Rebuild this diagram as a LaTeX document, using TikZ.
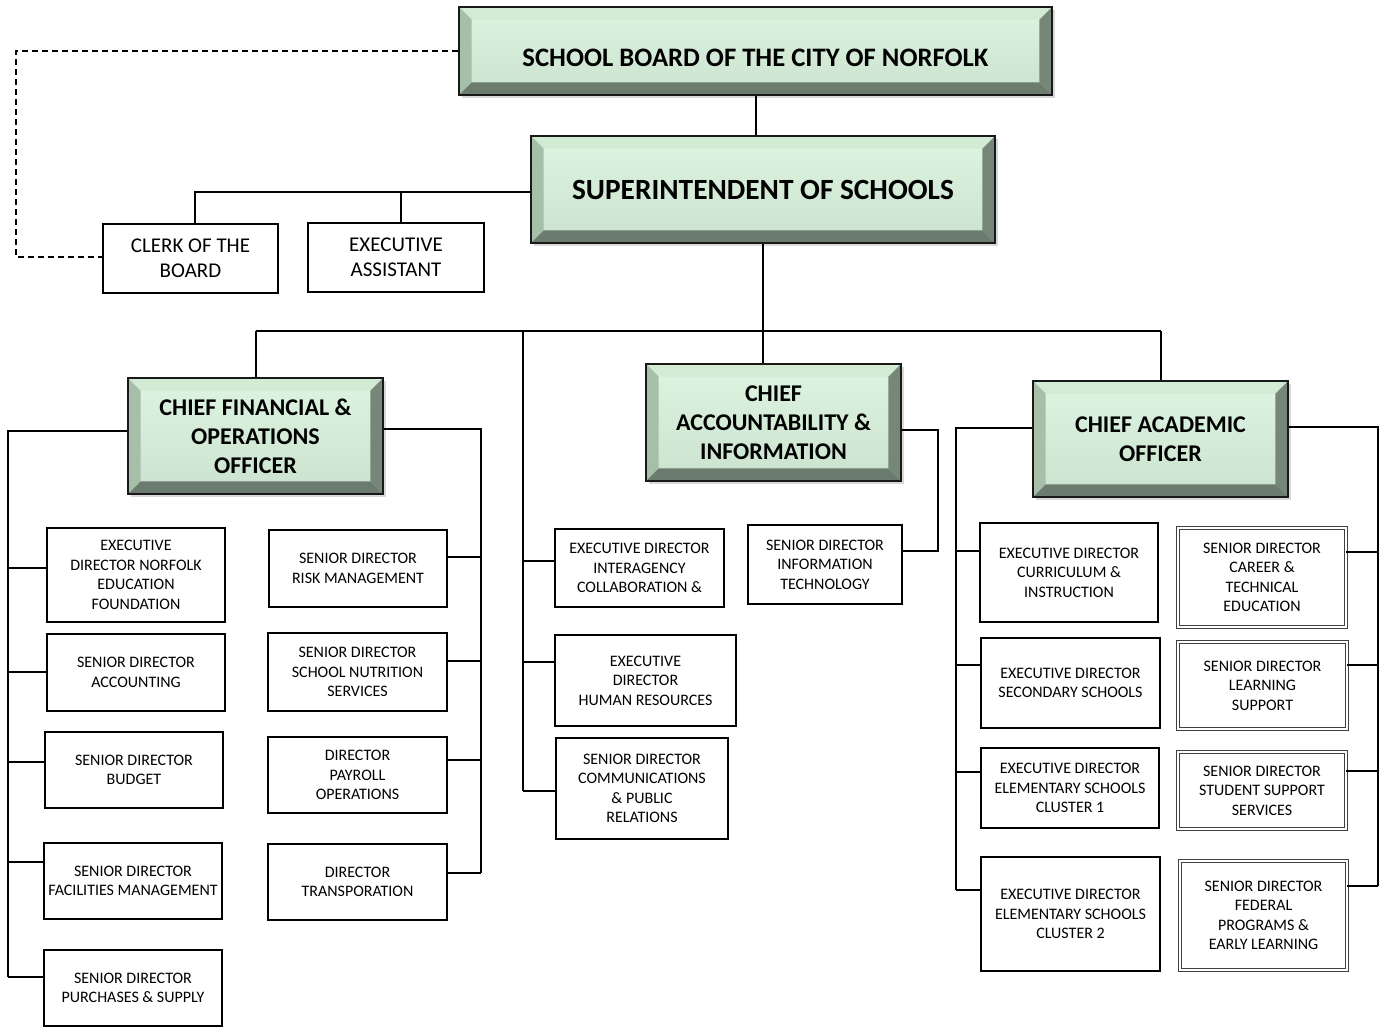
\documentclass[tikz,border=0pt]{standalone}
\usepackage{fontspec}
\setmainfont{Carlito}
\usetikzlibrary{shadows}
\definecolor{faceT}{HTML}{DDF5E0}
\definecolor{faceB}{HTML}{CBE3CE}
\definecolor{bevT}{HTML}{D2EBD5}
\definecolor{bevL}{HTML}{A6BFA9}
\definecolor{bevR}{HTML}{76877A}
\definecolor{bevB}{HTML}{6B7B6E}
\newcommand\bx[7]{%
  \pgfmathsetmacro\bxcx{(#2+#4)/2}%
  \pgfmathsetmacro\bxcy{(#3+#5)/2}%
  \pgfmathsetmacro\bxw{(#4-#2)*0.75}%
  \pgfmathsetmacro\bxh{(#5-#3)*0.75}%
  \node[#6, minimum width=\bxw pt, minimum height=\bxh pt] (#1) at (\bxcx,\bxcy) {#7};}
\tikzset{
  conn/.style={line width=1.5pt, black},
  smallbox/.style={draw=black, line width=1.3pt, fill=white, align=center, inner sep=0pt,
    font=\fontsize{12}{14.6}\selectfont},
  midbox/.style={smallbox, font=\fontsize{15.75}{19}\selectfont},
  dblbox/.style={draw=black!75, line width=0.7pt, double=white, double distance=1.4pt, fill=white,
    align=center, inner sep=0pt, font=\fontsize{12}{14.6}\selectfont},
  bevel/.style={draw=black!90, line width=1.5pt, top color=faceT, bottom color=faceB,
    align=center, inner sep=0pt,
    drop shadow={shadow xshift=2pt, shadow yshift=-2.5pt, opacity=0.3},
    path picture={
      \coordinate (pNW) at (path picture bounding box.north west);
      \coordinate (pNE) at (path picture bounding box.north east);
      \coordinate (pSW) at (path picture bounding box.south west);
      \coordinate (pSE) at (path picture bounding box.south east);
      \fill[bevT] (pNW) -- (pNE) -- ([shift={(-9.5pt,-9.5pt)}]pNE) -- ([shift={(9.5pt,-9.5pt)}]pNW) -- cycle;
      \fill[bevL] (pNW) -- ([shift={(9.5pt,-9.5pt)}]pNW) -- ([shift={(9.5pt,9.5pt)}]pSW) -- (pSW) -- cycle;
      \fill[bevR] (pNE) -- ([shift={(-9.5pt,-9.5pt)}]pNE) -- ([shift={(-9.5pt,9.5pt)}]pSE) -- (pSE) -- cycle;
      \fill[bevB] (pSW) -- (pSE) -- ([shift={(-9.5pt,9.5pt)}]pSE) -- ([shift={(9.5pt,9.5pt)}]pSW) -- cycle;
    }},
  chief/.style={bevel, font=\fontsize{18}{21.75}\selectfont\bfseries},
}
\begin{document}
\begin{tikzpicture}[x=0.75pt, y=-0.75pt]
\useasboundingbox (0,0) rectangle (1387,1028);
% top level
\bx{board}{459}{7}{1052}{95}{bevel, font=\fontsize{20}{24}\selectfont\bfseries}{\raisebox{-11.5pt}[0pt][0pt]{SCHOOL BOARD OF THE CITY OF NORFOLK}}
\bx{super}{531}{136}{995}{243}{bevel, font=\fontsize{22}{26}\selectfont\bfseries}{SUPERINTENDENT OF SCHOOLS}
\bx{clerk}{103}{224}{278}{293}{midbox}{CLERK OF THE\\BOARD}
\bx{ea}{308}{223}{484}{292}{midbox}{EXECUTIVE\\ASSISTANT}
% chiefs
\bx{cfo}{128}{378}{383}{494}{chief}{CHIEF FINANCIAL \&\\OPERATIONS\\OFFICER}
\bx{cai}{646}{364}{901}{481}{chief}{CHIEF\\ACCOUNTABILITY \&\\INFORMATION}
\bx{cao}{1033}{381}{1288}{497}{chief}{CHIEF ACADEMIC\\OFFICER}
% CFO left column
\bx{f1}{47}{528}{225}{622}{smallbox}{EXECUTIVE\\DIRECTOR NORFOLK\\EDUCATION\\FOUNDATION}
\bx{f2}{47}{634}{225}{711}{smallbox}{SENIOR DIRECTOR\\ACCOUNTING}
\bx{f3}{45}{732}{223}{808}{smallbox}{SENIOR DIRECTOR\\BUDGET}
\bx{f4}{44}{843}{222}{919}{smallbox}{SENIOR DIRECTOR\\FACILITIES MANAGEMENT}
\bx{f5}{44}{950}{222}{1026}{smallbox}{SENIOR DIRECTOR\\PURCHASES \& SUPPLY}
% CFO right column
\bx{g1}{269}{530}{447}{607}{smallbox}{SENIOR DIRECTOR\\RISK MANAGEMENT}
\bx{g2}{268}{633}{447}{711}{smallbox}{SENIOR DIRECTOR\\SCHOOL NUTRITION\\SERVICES}
\bx{g3}{268}{737}{447}{813}{smallbox}{DIRECTOR\\PAYROLL\\OPERATIONS}
\bx{g4}{268}{844}{447}{920}{smallbox}{DIRECTOR\\TRANSPORATION}
% middle column
\bx{m1}{555}{529}{724}{607}{smallbox}{EXECUTIVE DIRECTOR\\INTERAGENCY\\COLLABORATION \&}
\bx{m2}{555}{635}{736}{726}{smallbox}{EXECUTIVE\\DIRECTOR\\HUMAN RESOURCES}
\bx{m3}{556}{738}{728}{839}{smallbox}{SENIOR DIRECTOR\\COMMUNICATIONS\\\& PUBLIC\\RELATIONS}
\bx{it}{748}{525}{902}{604}{smallbox}{SENIOR DIRECTOR\\INFORMATION\\TECHNOLOGY}
% CAO left column
\bx{a1}{980}{523}{1158}{622}{smallbox}{EXECUTIVE DIRECTOR\\CURRICULUM \&\\INSTRUCTION}
\bx{a2}{981}{638}{1160}{728}{smallbox}{EXECUTIVE DIRECTOR\\SECONDARY SCHOOLS}
\bx{a3}{981}{748}{1159}{828}{smallbox}{EXECUTIVE DIRECTOR\\ELEMENTARY SCHOOLS\\CLUSTER 1}
\bx{a4}{981}{857}{1160}{971}{smallbox}{EXECUTIVE DIRECTOR\\ELEMENTARY SCHOOLS\\CLUSTER 2}
% CAO right column
\bx{b1}{1178}{528}{1346}{627}{dblbox}{SENIOR DIRECTOR\\CAREER \&\\TECHNICAL\\EDUCATION}
\bx{b2}{1178}{642}{1347}{729}{dblbox}{SENIOR DIRECTOR\\LEARNING\\SUPPORT}
\bx{b3}{1178}{752}{1346}{829}{dblbox}{SENIOR DIRECTOR\\STUDENT SUPPORT\\SERVICES}
\bx{b4}{1180}{861}{1347}{970}{dblbox}{SENIOR DIRECTOR\\FEDERAL\\PROGRAMS \&\\EARLY LEARNING}
% bus coordinates
\coordinate (hb) at (0,331);
\coordinate (dl) at (16,0);
\coordinate (busL) at (8,977);
\coordinate (busR) at (481,873);
\coordinate (busM) at (523,791);
\coordinate (busI) at (938,0);
\coordinate (busAL) at (956,890);
\coordinate (busAR) at (1378,886);
% connectors top
\draw[conn] (board.south) -- (board.south |- super.north);
\draw[conn] (super.west |- 0,192) -- (195,192) -- (195,0 |- clerk.north);
\draw[conn] (401,192) -- (401,0 |- ea.north);
\draw[conn, dashed, dash pattern=on 4.5pt off 3pt, line width=1.2pt] (board.west) -| (dl |- 0,257) -- (clerk.west |- 0,257);
\draw[conn] (super.south) -- (super.south |- cai.north);
\draw[conn] (cfo.north |- hb) -- (cao.north |- hb);
\draw[conn] (cfo.north |- hb) -- (cfo.north);
\draw[conn] (cao.north |- hb) -- (cao.north);
% CFO buses
\draw[conn] (cfo.west |- 0,431) -- (busL |- 0,431) -- (busL);
\foreach \n/\yy in {f1/568,f2/672,f3/762,f4/862,f5/977} \draw[conn] (\n.west |- 0,\yy) -- (busL |- 0,\yy);
\draw[conn] (cfo.east |- 0,429) -- (busR |- 0,429) -- (busR);
\foreach \n/\yy in {g1/557,g2/661,g3/760,g4/873} \draw[conn] (\n.east |- 0,\yy) -- (busR |- 0,\yy);
% middle bus
\draw[conn] (busM |- hb) -- (busM);
\foreach \n/\yy in {m1/561,m2/662,m3/791} \draw[conn] (\n.west |- 0,\yy) -- (busM |- 0,\yy);
% CAI
\draw[conn] (cai.east |- 0,430) -- (busI |- 0,430) -- (busI |- 0,551) -- (it.east |- 0,551);
% CAO buses
\draw[conn] (cao.west |- 0,428) -- (busAL |- 0,428) -- (busAL);
\foreach \n/\yy in {a1/551,a2/665,a3/772,a4/890} \draw[conn] (\n.west |- 0,\yy) -- (busAL |- 0,\yy);
\draw[conn] (cao.east |- 0,427) -- (busAR |- 0,427) -- (busAR);
\foreach \n/\yy in {b1/552,b2/665,b3/771,b4/886} \draw[conn] (\n.east |- 0,\yy) -- (busAR |- 0,\yy);
\end{tikzpicture}
\end{document}
